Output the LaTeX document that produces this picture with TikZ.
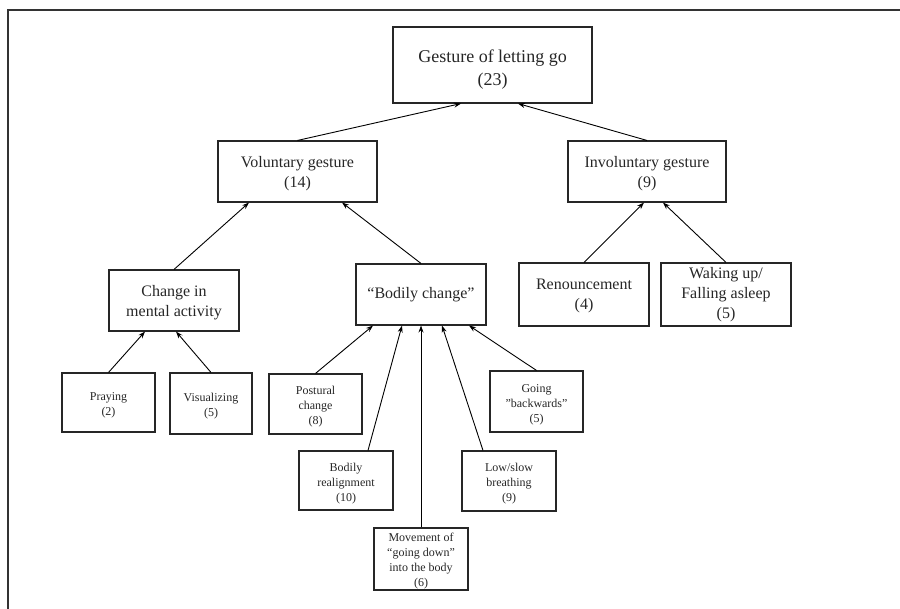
\documentclass[tikz,border=0pt]{standalone}
\usepackage{fontspec}
\setmainfont{Liberation Serif}
\usetikzlibrary{arrows.meta,positioning}

\tikzset{
  droph/.store in=\droph, droph=0pt,
  box/.style={draw=black!85, line width=1.1pt, align=center, inner sep=0pt, text=black!85,
    execute at begin node={\rule{0pt}{\droph}}},
  topbox/.style={box, minimum width=199pt, minimum height=76pt, font=\fontsize{18}{23}\selectfont, droph=45pt},
  midbox/.style={box, minimum width=130pt, minimum height=61pt, font=\fontsize{16}{20}\selectfont, droph=36pt},
  leafbox/.style={box, minimum width=93pt, minimum height=60pt, font=\fontsize{12}{15}\selectfont, droph=44pt},
}

\begin{document}
\begin{tikzpicture}[x=1pt, y=-1pt, >={Stealth[length=7pt,width=5pt]}, line width=0.9pt]
	 \useasboundingbox (0,0) rectangle (900,609);
	 \draw[line width=1.5pt, black!80] (900,10) -- (8,10) -- (8,609);

	 \node[topbox] (top) at (492.5,65) {Gesture of letting go\\(23)};
	 \node[midbox, minimum width=159pt] (vol) at (297.5,171.5) {Voluntary gesture\\(14)};
	 \node[midbox, minimum width=158pt] (invol) at (647,171.5) {Involuntary gesture\\(9)};

	 \node[midbox] (mental) at (174,300.5) {Change in\\mental activity};
	 \node[midbox, droph=0pt] (bodily) at (421,294.5) {“Bodily change”};
	 \node[midbox, minimum height=63pt, droph=34pt] (renounce) at (584,294.5) {Renouncement\\(4)};
	 \node[midbox, minimum height=63pt, droph=0pt] (waking) at (726,294.5) {Waking up/\\Falling asleep\\(5)};

	 \node[leafbox, minimum height=59pt, droph=29pt] (praying) at (108.5,402.5) {Praying\\(2)};
	 \node[leafbox, minimum width=82pt, minimum height=61pt, droph=29pt] (visual) at (211,403.5) {Visualizing\\(5)};
	 \node[leafbox] (postural) at (315.5,404) {Postural\\change\\(8)};
	 \node[leafbox, minimum width=94pt, minimum height=59pt] (realign) at (346,480.5) {Bodily\\realignment\\(10)};
	 \node[leafbox, minimum width=94pt, minimum height=62pt, droph=57pt] (movement) at (421,559) {Movement of\\“going down”\\into the body\\(6)};
	 \node[leafbox, minimum width=94pt] (breathing) at (509,481) {Low/slow\\breathing\\(9)};
	 \node[leafbox, minimum height=61pt] (backwards) at (536.5,401.5) {Going\\”backwards”\\(5)};

	 \path[->]
	   (vol.north) edge ([xshift=-31.5pt]top.south)
	   (invol.north) edge ([xshift=25.5pt]top.south)
	   (mental.north) edge ([xshift=-48.5pt]vol.south)
	   (bodily.north) edge ([xshift=44.5pt]vol.south)
	   (renounce.north) edge ([xshift=-3pt]invol.south)
	   (waking.north) edge ([xshift=16pt]invol.south)
	   (praying.north) edge ([xshift=-29pt]mental.south)
	   (visual.north) edge ([xshift=2pt]mental.south)
	   (postural.north) edge ([xshift=-48pt]bodily.south)
	   ([xshift=22pt]realign.north) edge ([xshift=-19pt]bodily.south)
	   (movement.north) edge (bodily.south)
	   ([xshift=-26pt]breathing.north) edge ([xshift=21pt]bodily.south)
	   (backwards.north) edge ([xshift=48pt]bodily.south);
\end{tikzpicture}
\end{document}
